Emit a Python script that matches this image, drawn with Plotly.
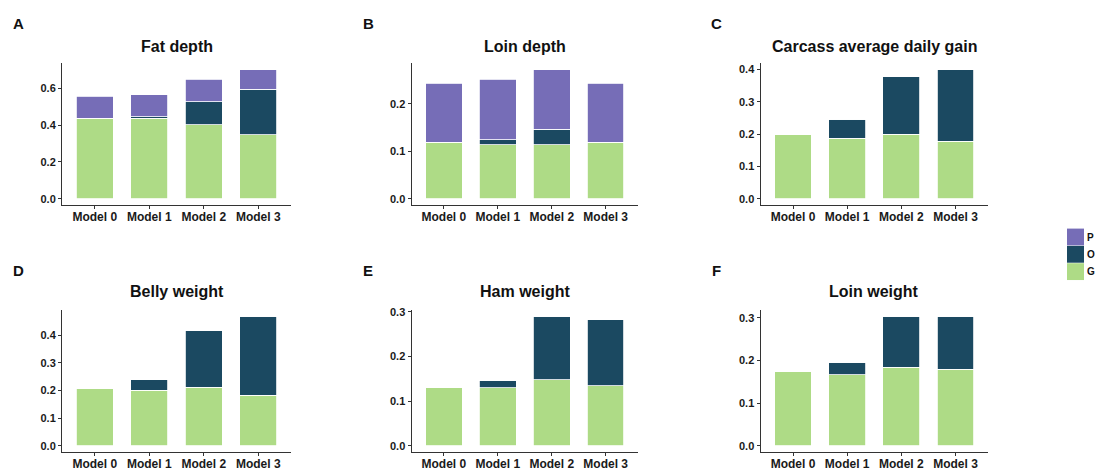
import plotly.graph_objects as go

W, H = 1098, 471

models = ["Model 0", "Model 1", "Model 2", "Model 3"]
titles = ["Fat depth", "Loin depth", "Carcass average daily gain",
          "Belly weight", "Ham weight", "Loin weight"]
panel_letters = ["A", "B", "C", "D", "E", "F"]
components = ["G", "O", "P"]

# stacked segment heights (G bottom, O middle, P top)
fat_depth_G = [0.437, 0.438, 0.401, 0.346]
fat_depth_O = [0.0, 0.006, 0.124, 0.247]
fat_depth_P = [0.118, 0.119, 0.124, 0.106]

loin_depth_G = [0.119, 0.114, 0.114, 0.119]
loin_depth_O = [0.0, 0.011, 0.033, 0.0]
loin_depth_P = [0.125, 0.127, 0.125, 0.125]

cadg_G = [0.198, 0.188, 0.200, 0.178]
cadg_O = [0.0, 0.058, 0.177, 0.221]
cadg_P = [0.0, 0.0, 0.0, 0.0]

belly_G = [0.205, 0.201, 0.211, 0.182]
belly_O = [0.0, 0.037, 0.206, 0.286]
belly_P = [0.0, 0.0, 0.0, 0.0]

ham_G = [0.130, 0.130, 0.148, 0.134]
ham_O = [0.0, 0.016, 0.142, 0.148]
ham_P = [0.0, 0.0, 0.0, 0.0]

loin_w_G = [0.174, 0.167, 0.184, 0.179]
loin_w_O = [0.0, 0.029, 0.120, 0.125]
loin_w_P = [0.0, 0.0, 0.0, 0.0]

y_dticks = [0.2, 0.1, 0.1, 0.1, 0.1, 0.1]

panels = [
    (fat_depth_G, fat_depth_O, fat_depth_P),
    (loin_depth_G, loin_depth_O, loin_depth_P),
    (cadg_G, cadg_O, cadg_P),
    (belly_G, belly_O, belly_P),
    (ham_G, ham_O, ham_P),
    (loin_w_G, loin_w_O, loin_w_P),
]

colors = {"P": "#766DB7", "O": "#1B4961", "G": "#AEDB86"}

# layout in pixels
x_spans = [(62, 291), (411.5, 638), (760.5, 988)]
y_spans = [(60, 203.5), (309, 453)]
letter_x = [18, 368, 716]
letter_y = [20, 269]
title_y = [43, 291]

fig = go.Figure()
font_family = "Liberation Sans, Arial, sans-serif"

for i, (seg_G, seg_O, seg_P) in enumerate(panels):
    r, c = divmod(i, 3)
    idx = "" if i == 0 else str(i + 1)
    xa, ya = "x" + idx, "y" + idx
    for comp, seg in zip(components, (seg_G, seg_O, seg_P)):
        fig.add_trace(go.Bar(
            x=models, y=seg, name=comp, xaxis=xa, yaxis=ya,
            marker=dict(color=colors[comp], line=dict(color="white", width=0.8)),
            showlegend=False, hoverinfo="x+y+name",
        ))
    totals = [a + b + d for a, b, d in zip(seg_G, seg_O, seg_P)]
    M = max(totals)
    x0, x1 = x_spans[c]
    yt, yb = y_spans[r]
    common = dict(showline=True, linecolor="#333333", linewidth=1,
                  ticks="outside", ticklen=3, tickcolor="#333333",
                  showgrid=False, zeroline=False)
    fig.layout["xaxis" + idx] = dict(
        domain=[x0 / W, x1 / W], anchor=ya, type="category",
        range=[-0.6, 3.6], ticklabelstandoff=-3,
        tickfont=dict(family=font_family, size=12, color="#1a1a1a", weight="bold"),
        **common)
    fig.layout["yaxis" + idx] = dict(
        domain=[(H - yb) / H, (H - yt) / H], anchor=xa,
        range=[-0.05 * M, 1.05 * M], dtick=y_dticks[i], tick0=0,
        tickformat=".1f",
        tickfont=dict(family=font_family, size=11, color="#1a1a1a", weight="bold"),
        **common)
    fig.add_annotation(text=titles[i], xref="paper", yref="paper",
                       x=(x0 + x1) / 2 / W, y=(H - title_y[r]) / H,
                       showarrow=False, xanchor="center", yanchor="middle",
                       font=dict(family=font_family, size=16, color="#111111", weight="bold"))
    fig.add_annotation(text=panel_letters[i], xref="paper", yref="paper",
                       x=letter_x[c] / W, y=(H - letter_y[r]) / H,
                       showarrow=False, xanchor="center", yanchor="middle",
                       font=dict(family=font_family, size=15, color="#111111", weight="bold"))

# legend (P, O, G from top)
legend_items = ["P", "O", "G"]
ky = 227
for comp in legend_items:
    fig.add_shape(type="rect", xref="paper", yref="paper",
                  x0=1067 / W, x1=1084 / W, y0=(H - ky - 17) / H, y1=(H - ky) / H,
                  fillcolor=colors[comp], line=dict(width=0))
    fig.add_annotation(text=comp, xref="paper", yref="paper",
                       x=1090.5 / W, y=(H - ky - 8.5) / H, showarrow=False,
                       xanchor="center", yanchor="middle",
                       font=dict(family=font_family, size=10, color="#111111", weight="bold"))
    ky += 17.5

fig.update_layout(
    width=W, height=H, margin=dict(l=0, r=0, t=0, b=0),
    barmode="stack", bargap=0.32,
    plot_bgcolor="white", paper_bgcolor="white",
)

fig.write_html("out.html", config={"displayModeBar": False},
               post_script="document.body.style.margin='0';document.body.style.overflow='hidden';")
